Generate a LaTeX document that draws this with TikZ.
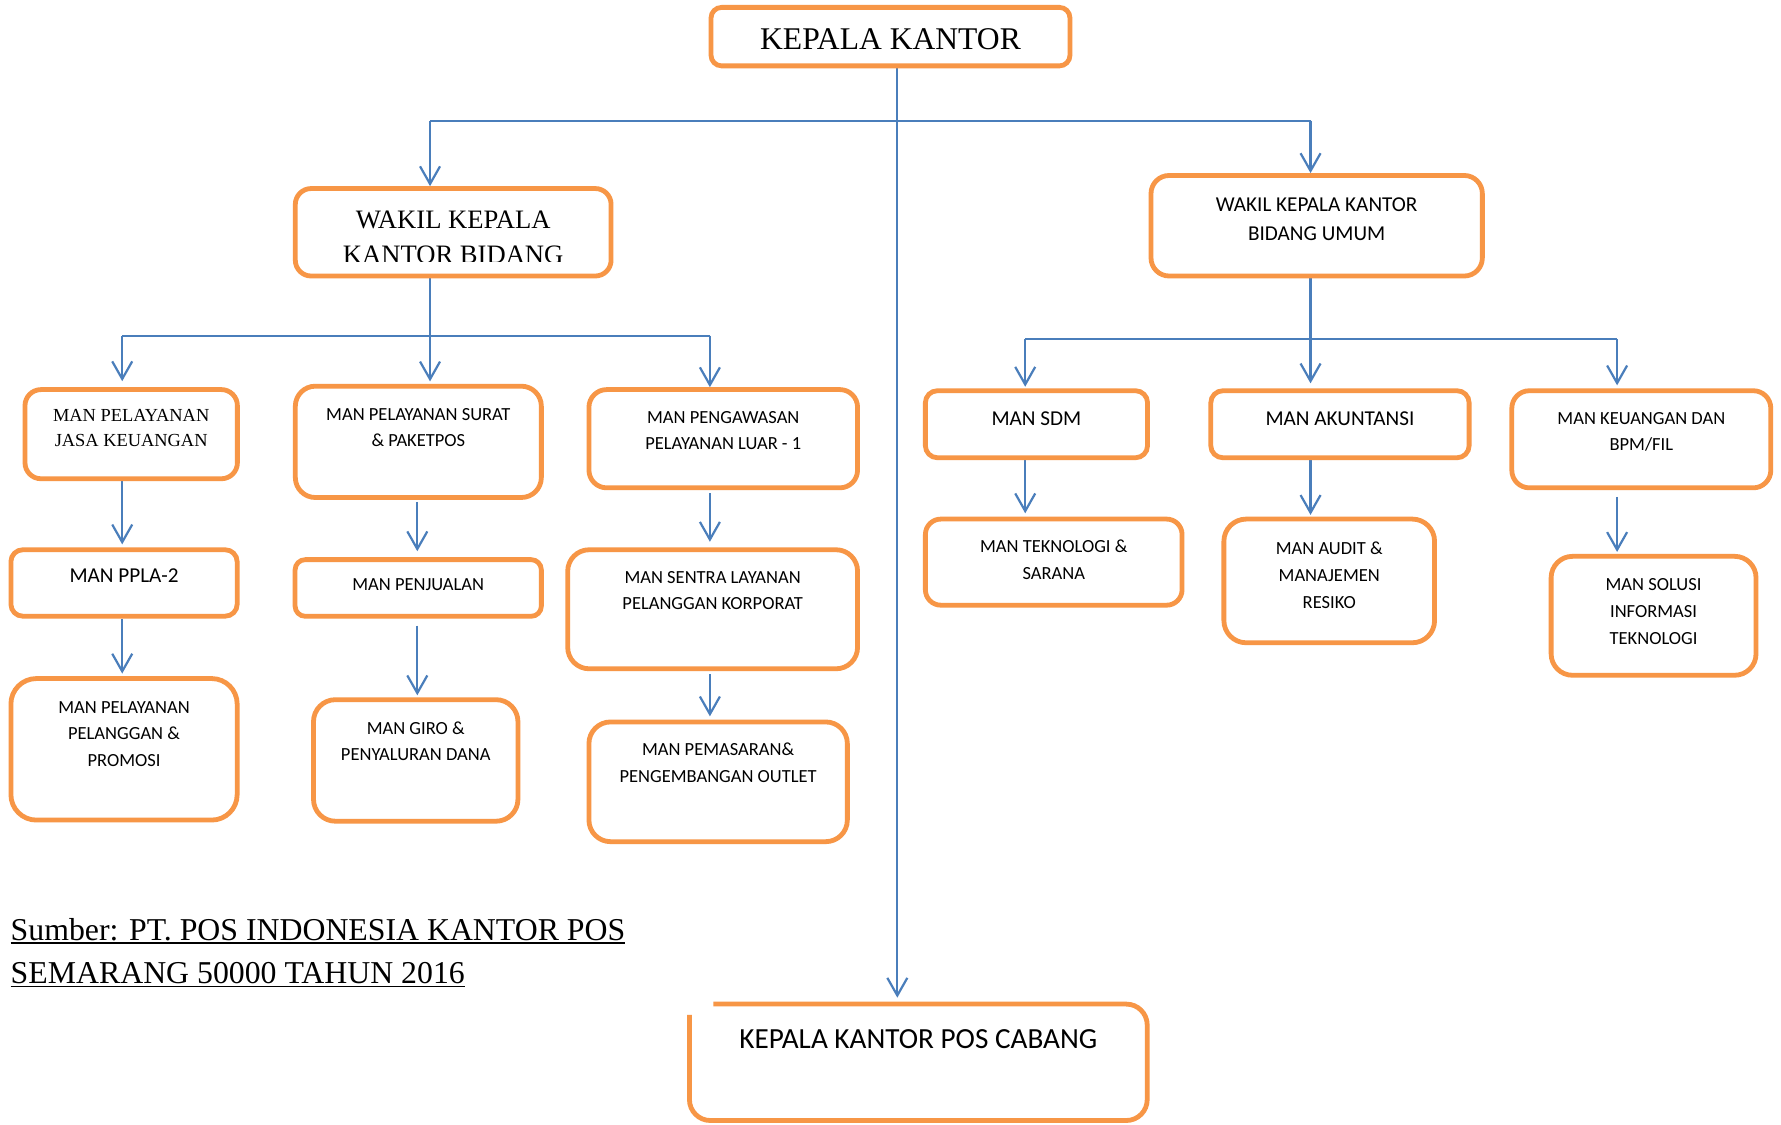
\documentclass[tikz,border=0pt]{standalone}
\usepackage{fontspec}
\setmainfont{Liberation Serif}
\newfontfamily\calfont{Carlito}
\usetikzlibrary{arrows.meta}
\pgfdeclarelayer{bglayer}
\pgfsetlayers{bglayer,main}
\definecolor{boxorange}{HTML}{F79646}
\definecolor{linkblue}{HTML}{4A7EBB}
\newcommand\pxu{0.5679pt}
\newcommand\myul[1]{\setbox0\hbox{#1}\rlap{\rule[-1.9pt]{\wd0}{0.9pt}}\box0}
\tikzset{
  orgbox/.style={draw=boxorange, line width=2.4pt, fill=white, inner sep=0pt},
  bx/.style args={#1/#2/#3}{orgbox, minimum width={#1*\pxu}, minimum height={#2*\pxu}, rounded corners={#3*\pxu}},
  conn/.style={draw=linkblue, line width=1.1pt},
  arr/.style={conn, -{Straight Barb[length=8.8pt,width=10pt]}},
  lbl/.style={inner sep=0pt, align=center, anchor=base, text=black},
  sansA/.style={lbl, font=\calfont\fontsize{9.25pt}{13.3pt}\selectfont},
  sansB/.style={lbl, font=\calfont\fontsize{10.6pt}{14.8pt}\selectfont},
  sansC/.style={lbl, font=\calfont\fontsize{14.6pt}{17pt}\selectfont},
  serA/.style={lbl, font=\fontsize{9.2pt}{12.5pt}\selectfont},
  serB/.style={lbl, font=\fontsize{13.3pt}{17.5pt}\selectfont},
  serC/.style={lbl, font=\fontsize{15.8pt}{19pt}\selectfont},
}
\begin{document}
\begin{tikzpicture}[x=0.5679pt, y=-0.5679pt]
\useasboundingbox (0,0) rectangle (1568,990);

% boxes
\node[bx=316/51.5/9.3] (kk) at (784,32.25) {};
\node[bx=278/77/13.9] (wl) at (399,204.5) {};
\node[bx=291.7/88.5/15.9] (wu) at (1159.2,198.75) {};
\node[bx=187/78.5/14.1] (jasa) at (115.5,382.25) {};
\node[bx=216.6/98/17.6] (surat) at (368.3,389) {};
\node[bx=236.5/86.5/15.6] (awas) at (636.75,386.25) {};
\node[bx=199.2/58.5/10.5] (ppla) at (109.2,513.25) {};
\node[bx=199.2/124.6/22.4] (pel) at (109.2,659.7) {};
\node[bx=216.8/49.9/9] (penj) at (368.2,517.65) {};
\node[bx=180/107/19.3] (giro) at (366,669.5) {};
\node[bx=255.2/104.8/18.9] (sentra) at (627.4,536.4) {};
\node[bx=227.5/105.4/19] (pem) at (632.25,688.3) {};
\node[bx=195.6/59/10.6] (sdm) at (912.5,373.5) {};
\node[bx=227.4/59/10.6] (akun) at (1179.7,373.5) {};
\node[bx=228/85.5/15.4] (keu) at (1445,386.75) {};
\node[bx=226/75.8/13.6] (tek) at (927.7,494.9) {};
\node[bx=185.5/108.9/19.6] (audit) at (1170.25,511.45) {};
\node[bx=180.4/104.7/18.8] (sol) at (1455.8,542.15) {};
\node[bx=403/102.5/18.4, draw=none, fill=none] (cab) at (808.5,935.25) {};
\draw[orgbox, fill=none, rounded corners={18.4*\pxu}] (628,884) -- (1010,884) -- (1010,986.5) -- (607,986.5) -- (607,893.5);

% texts (base anchor = baseline of the last line)
\node[serC] (kkt) at (784,44) {KEPALA KANTOR};
\begin{scope}
  \clip (260,166) rectangle (538,230.4);
  \node[serB] (wlt) at (399,231.8) {WAKIL KEPALA\\KANTOR BIDANG};
\end{scope}
\node[sansB] (wut) at (1159.2,212.06) {WAKIL KEPALA KANTOR\\BIDANG UMUM};
\node[serA] (jasat) at (115.5,393.4) {MAN PELAYANAN\\JASA KEUANGAN};
\node[sansA] (suratt) at (368.3,393.42) {MAN PELAYANAN SURAT\\\& PAKETPOS};
\node[sansA] (awast) at (636.75,396.17) {MAN PENGAWASAN\\PELAYANAN LUAR - 1};
\node[sansB] (pplat) at (109.2,513.2) {MAN PPLA-2};
\node[sansA] (pelt) at (109.2,674.59) {MAN PELAYANAN\\PELANGGAN \&\\PROMOSI};
\node[sansA] (penjt) at (368.2,520.25) {MAN PENJUALAN};
\node[sansA] (girot) at (366,669.97) {MAN GIRO \&\\PENYALURAN DANA};
\node[sansA] (sentrat) at (627.4,536.97) {MAN SENTRA LAYANAN\\PELANGGAN KORPORAT};
\node[sansA] (pemt) at (632.25,688.67) {MAN PEMASARAN\&\\PENGEMBANGAN OUTLET};
\node[sansB] (sdmt) at (912.5,374.3) {MAN SDM};
\node[sansB] (akunt) at (1179.7,374.3) {MAN AKUNTANSI};
\node[sansA] (keut) at (1445,396.97) {MAN KEUANGAN DAN\\BPM/FIL};
\node[sansA] (tekt) at (927.7,510.17) {MAN TEKNOLOGI \&\\SARANA};
\node[sansA] (auditt) at (1170.25,535.39) {MAN AUDIT \&\\MANAJEMEN\\RESIKO};
\node[sansA] (solt) at (1455.8,567.09) {MAN SOLUSI\\INFORMASI\\TEKNOLOGI};
\node[sansC] (cabt) at (808.5,923) {KEPALA KANTOR POS CABANG};
\node[lbl, align=left, anchor=base west, font=\fontsize{15.9pt}{21.6pt}\selectfont] (src) at (9.1,866)
  {\myul{Sumber: PT. POS INDONESIA KANTOR POS}\\\myul{SEMARANG 50000 TAHUN 2016}};

% junction coordinates
\coordinate (j0) at (790,106.3);
\coordinate (jl) at (378.6,106.3);
\coordinate (jr) at (1153.8,106.3);
\coordinate (ml) at (378.6,295.5);
\coordinate (ml1) at (107.6,295.5);
\coordinate (ml3) at (625,295.5);
\coordinate (mr) at (1153.8,298.7);
\coordinate (mr1) at (902.6,298.7);
\coordinate (mr3) at (1423.7,298.7);
\coordinate (c2) at (367.4,441.7);

\begin{pgfonlayer}{bglayer}
\fill[white] (0,0) rectangle (1568,990);
% connectors
\draw[conn] (jl) -- (jr);
\draw[arr, shorten >=2pt] (kk.south -| j0) -- (j0 |- cab.north);
\draw[arr] (jl) -- (jl |- wl.north);
\draw[arr] (jr) -- (jr |- wu.north);

\draw[conn] (ml1) -- (ml3);
\draw[arr, shorten >=1.2pt] (wl.south -| ml) -- (ml |- surat.north);
\draw[arr, shorten >=3pt] (ml1) -- (ml1 |- jasa.north);
\draw[arr] (ml3) -- (ml3 |- awas.north);

\draw[conn] (mr1) -- (mr3);
\draw[arr, shorten >=2.5pt] (wu.south -| mr) -- (mr |- akun.north);
\draw[arr, shorten >=0.8pt] (mr1) -- (mr1 |- sdm.north);
\draw[arr, shorten >=1.5pt] (mr3) -- (mr3 |- keu.north);

\draw[arr, shorten >=1.5pt] (jasa.south -| ml1) -- (ppla.north -| ml1);
\draw[arr, shorten >=1.3pt] (ppla.south -| ml1) -- (pel.north -| ml1);
\draw[arr, shorten <=1pt, shorten >=3pt] (surat.south -| c2) -- (penj.north -| c2);
\draw[arr, shorten <=3.4pt, shorten >=1pt] (penj.south -| c2) -- (giro.north -| c2);
\draw[arr, shorten <=1.5pt, shorten >=2.8pt] (awas.south -| ml3) -- (sentra.north -| ml3);
\draw[arr, shorten <=1.6pt, shorten >=1.6pt] (sentra.south -| ml3) -- (pem.north -| ml3);
\draw[arr, shorten >=1.7pt] (sdm.south -| mr1) -- (tek.north -| mr1);
\draw[arr, shorten >=0.9pt] (akun.south -| mr) -- (audit.north -| mr);
\draw[arr, shorten <=3.3pt, shorten >=1pt] (keu.south -| mr3) -- (sol.north -| mr3);
\end{pgfonlayer}
\end{tikzpicture}
\end{document}
